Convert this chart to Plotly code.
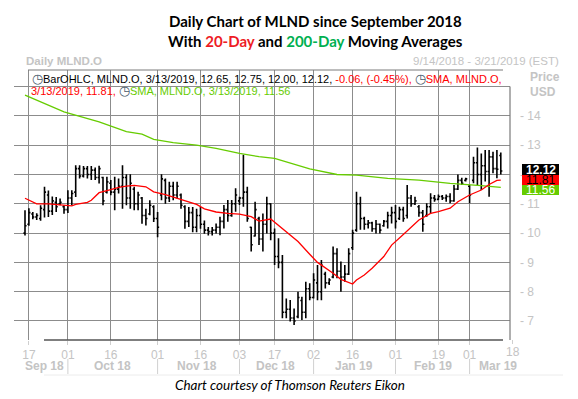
import pandas as pd
import plotly.graph_objects as go

W, H = 578, 399

# ---------------- data ----------------
holidays = ["2018-11-22", "2018-12-05", "2018-12-25", "2019-01-01", "2019-01-21", "2019-02-18"]
all_days = [d.strftime("%Y-%m-%d") for d in pd.bdate_range("2018-09-14", "2019-03-21")
            if d.strftime("%Y-%m-%d") not in holidays]
last_bar = "2019-03-13"
bar_dates = all_days[:all_days.index(last_bar) + 1]

opens = [10.00, 10.30, 10.65, 10.55, 10.50, 10.80, 11.30, 10.75, 11.05, 11.00,
         10.90, 10.80, 11.20, 11.40, 12.20, 11.95, 12.20, 12.00, 12.15, 11.90,
         11.90, 11.40, 11.70, 11.40, 11.50, 11.60, 11.90, 11.20, 11.50, 11.00,
         11.20, 10.60, 10.65, 10.90, 10.50, 11.30, 11.80, 11.20, 11.60, 11.30,
         11.30, 10.90, 10.40, 10.70, 10.20, 10.60, 10.30, 10.10, 10.05, 10.10,
         10.20, 10.40, 10.80, 10.60, 11.00, 11.10, 11.20, 11.40, 10.20, 9.90,
         10.50, 9.80, 10.30, 11.00, 10.00, 9.20, 9.00, 7.30, 7.40, 7.10,
         7.15, 7.70, 7.30, 8.10, 7.80, 8.30, 8.00, 8.60, 8.30, 8.50,
         9.30, 8.70, 8.50, 8.60, 9.50, 10.10, 11.00, 10.50, 10.30, 10.35,
         10.15, 10.30, 10.25, 10.40, 10.60, 10.70, 10.50, 10.80, 10.60, 11.20,
         11.00, 10.90, 10.70, 10.60, 10.90, 11.20, 11.15, 11.25, 11.20, 11.25,
         11.10, 11.50, 11.80, 11.80, 11.60, 11.80, 12.40, 12.00, 12.30, 12.10,
         12.60, 12.20, 12.65]
highs = [10.78, 10.85, 10.72, 10.68, 10.95, 11.58, 11.45, 11.25, 11.23, 11.18,
         10.95, 11.46, 11.46, 12.32, 12.32, 12.29, 12.29, 12.29, 12.24, 12.30,
         11.92, 11.92, 11.81, 11.92, 11.86, 12.32, 12.01, 12.01, 11.58, 11.41,
         11.23, 10.83, 11.12, 10.95, 10.72, 12.01, 11.86, 11.75, 11.75, 11.75,
         11.35, 10.95, 10.89, 10.89, 10.83, 10.89, 10.43, 10.21, 10.21, 10.33,
         10.56, 10.96, 11.13, 11.13, 11.53, 11.24, 12.67, 11.58, 10.22, 11.07,
         10.56, 10.67, 11.24, 11.02, 10.16, 9.82, 9.25, 7.77, 7.72, 7.43,
         8.00, 7.83, 8.34, 8.29, 8.63, 8.91, 9.08, 8.68, 8.46, 9.54,
         9.48, 9.03, 8.91, 9.48, 10.11, 11.41, 11.24, 10.56, 10.45, 10.39,
         10.45, 10.33, 10.45, 10.73, 10.90, 10.96, 10.90, 10.90, 11.64, 11.30,
         11.24, 10.96, 10.79, 11.02, 11.36, 11.30, 11.32, 11.30, 11.32, 11.36,
         11.64, 12.00, 11.89, 11.89, 11.64, 12.61, 12.92, 12.72, 12.84, 12.84,
         12.78, 12.84, 12.75]
lows = [9.92, 10.25, 10.47, 10.45, 10.42, 10.53, 10.55, 10.62, 10.72, 10.95,
        10.66, 10.69, 10.95, 11.23, 11.86, 11.90, 11.86, 11.81, 11.81, 11.69,
        10.95, 11.35, 11.29, 10.78, 11.35, 10.83, 10.95, 10.83, 10.78, 10.78,
        10.32, 10.26, 10.61, 10.38, 9.86, 11.12, 11.00, 11.06, 11.12, 11.18,
        10.83, 10.15, 10.21, 10.03, 10.03, 10.15, 9.98, 9.92, 9.92, 9.99,
        9.93, 10.16, 10.39, 10.56, 10.73, 10.96, 10.90, 10.39, 9.37, 9.88,
        9.59, 9.37, 9.99, 9.76, 8.91, 8.80, 7.09, 7.09, 6.98, 6.86,
        7.09, 7.03, 7.09, 7.71, 7.77, 7.71, 7.71, 8.11, 8.23, 8.46,
        8.46, 8.00, 8.34, 8.57, 9.42, 10.05, 10.11, 10.11, 10.16, 10.05,
        9.99, 9.99, 10.22, 10.16, 10.33, 10.16, 10.45, 10.39, 10.50, 10.90,
        10.96, 10.56, 10.05, 10.56, 10.67, 11.07, 11.13, 11.13, 11.07, 11.02,
        11.07, 11.47, 11.64, 11.76, 11.02, 11.70, 11.64, 11.47, 11.76, 11.24,
        12.04, 11.87, 12.00]
closes = [10.25, 10.70, 10.55, 10.60, 10.85, 11.40, 10.75, 11.10, 10.90, 11.05,
          10.80, 11.20, 11.35, 12.20, 11.95, 12.20, 12.00, 12.15, 11.90, 12.20,
          11.10, 11.75, 11.40, 11.50, 11.60, 11.90, 11.20, 11.70, 11.00, 11.30,
          10.60, 10.50, 10.95, 10.50, 10.20, 11.85, 11.20, 11.60, 11.30, 11.60,
          10.95, 10.40, 10.70, 10.20, 10.60, 10.30, 10.10, 10.05, 10.10, 10.20,
          10.40, 10.80, 10.60, 11.00, 11.30, 11.20, 11.40, 10.50, 9.60, 10.80,
          9.80, 10.30, 11.00, 10.00, 9.20, 9.00, 7.30, 7.40, 7.10, 7.00,
          7.80, 7.30, 8.10, 7.80, 8.40, 8.00, 8.90, 8.30, 8.40, 9.30,
          8.70, 8.50, 8.60, 9.30, 10.00, 11.00, 10.50, 10.30, 10.35, 10.15,
          10.30, 10.10, 10.40, 10.60, 10.70, 10.40, 10.80, 10.50, 11.20, 11.00,
          11.10, 10.70, 10.30, 10.90, 11.20, 11.15, 11.25, 11.20, 11.25, 11.10,
          11.50, 11.80, 11.70, 11.85, 11.30, 12.40, 12.00, 12.30, 12.10, 12.60,
          12.20, 12.18, 12.12]

sma20_dates = ["2018-09-14", "2018-09-19", "2018-09-24", "2018-09-28", "2018-10-02", "2018-10-03",
               "2018-10-08", "2018-10-09", "2018-10-11", "2018-10-16", "2018-10-18", "2018-10-22",
               "2018-10-24", "2018-10-29", "2018-10-31", "2018-11-05", "2018-11-07", "2018-11-12",
               "2018-11-15", "2018-11-19", "2018-11-23", "2018-11-28", "2018-12-03", "2018-12-07",
               "2018-12-11", "2018-12-14", "2018-12-17", "2018-12-20", "2018-12-26", "2018-12-31",
               "2019-01-03", "2019-01-09", "2019-01-11", "2019-01-16", "2019-01-17", "2019-01-22",
               "2019-01-24", "2019-01-29", "2019-01-31", "2019-02-05", "2019-02-11", "2019-02-14",
               "2019-02-19", "2019-02-22", "2019-02-26", "2019-03-01", "2019-03-06", "2019-03-08",
               "2019-03-12", "2019-03-13"]
sma20_vals = [11.19, 11.00, 11.00, 10.96, 10.93, 10.98,
              11.05, 11.12, 11.38, 11.48, 11.56, 11.60,
              11.63, 11.58, 11.41, 11.31, 11.23, 11.12,
              10.98, 10.83, 10.72, 10.67, 10.65, 10.56,
              10.41, 10.48, 10.37, 10.05, 9.71, 9.28,
              9.00, 8.63, 8.42, 8.26, 8.40, 8.57,
              8.80, 9.20, 9.59, 9.95, 10.45, 10.67,
              10.73, 10.85, 11.07, 11.30, 11.47, 11.66,
              11.80, 11.81]

sma200_dates = ["2018-09-14", "2018-09-28", "2018-10-11", "2018-10-22", "2018-10-26", "2018-10-31",
                "2018-11-07", "2018-11-15", "2018-11-23", "2018-12-03", "2018-12-11", "2018-12-17",
                "2018-12-31", "2019-01-10", "2019-01-17", "2019-01-30", "2019-02-11", "2019-02-22",
                "2019-03-06", "2019-03-12", "2019-03-13"]
sma200_vals = [14.71, 14.14, 13.80, 13.46, 13.38, 13.20,
               13.09, 13.00, 12.89, 12.72, 12.61, 12.55,
               12.19, 12.00, 11.98, 11.87, 11.81, 11.70,
               11.62, 11.57, 11.56]

x_tick_dates = ["2018-09-17", "2018-10-01", "2018-10-16", "2018-11-01", "2018-11-16", "2018-12-03",
                "2018-12-17", "2019-01-02", "2019-01-16", "2019-02-01", "2019-02-19", "2019-03-01",
                "2019-03-18"]
x_tick_text = ["17", "01", "16", "01", "16", "03", "17", "02", "16", "01", "19", "01", "18"]
month_labels = ["Sep 18", "Oct 18", "Nov 18", "Dec 18", "Jan 19", "Feb 19", "Mar 19"]
month_starts = ["2018-10-01", "2018-11-01", "2018-12-03", "2019-01-02", "2019-02-01", "2019-03-01"]
y_ticks = [7, 8, 9, 10, 11, 12, 13, 14, 15]

# ---------------- helpers ----------------
def px(x):
    return x / W

def py(y):
    return 1 - y / H

# plot-area geometry (pixels) and the category-axis range that maps onto it
PLOT_L, PLOT_R, PLOT_T, PLOT_B = 14, 510, 70, 340
X_RANGE = [(14 - 25) / 3.9, (510 - 25) / 3.9]


def cat_px(day):
    """Pixel x of a trading day on the category axis (used for the label past the range)."""
    i = all_days.index(day)
    return PLOT_L + (i - X_RANGE[0]) / (X_RANGE[1] - X_RANGE[0]) * (PLOT_R - PLOT_L)


GRID = "#8c8c8c"
LIGHT = "#c4c4c4"
RED = "#ff0000"
GREEN = "#66cc00"

fig = go.Figure()
fig.add_trace(go.Ohlc(
    x=bar_dates, open=opens, high=highs, low=lows, close=closes,
    increasing=dict(line=dict(color="black", width=1.6)),
    decreasing=dict(line=dict(color="black", width=1.6)),
    tickwidth=0.4, showlegend=False, hoverinfo="skip"))
fig.add_trace(go.Scatter(x=sma200_dates, y=sma200_vals, mode="lines",
                         line=dict(color=GREEN, width=1.3), showlegend=False, hoverinfo="skip"))
fig.add_trace(go.Scatter(x=sma20_dates, y=sma20_vals, mode="lines",
                         line=dict(color=RED, width=1.3), showlegend=False, hoverinfo="skip"))

fig.update_layout(
    width=W, height=H, margin=dict(l=0, r=0, t=0, b=0, autoexpand=False),
    paper_bgcolor="white", plot_bgcolor="white",
    font=dict(family="Liberation Sans, Arial, sans-serif", size=11, color="black"),
    xaxis=dict(type="category", categoryorder="array", categoryarray=all_days,
               domain=[px(PLOT_L), px(PLOT_R)], range=X_RANGE,
               tickvals=x_tick_dates, ticktext=x_tick_text, automargin=False,
               showgrid=True, gridcolor=GRID, gridwidth=1,
               ticks="outside", ticklen=4, tickcolor="#cfcfcf",
               tickfont=dict(size=12, color=LIGHT), showline=False, zeroline=False,
               rangeslider=dict(visible=False), fixedrange=True),
    yaxis=dict(side="right", domain=[py(PLOT_B), py(PLOT_T)], range=[6.351, 15.567],
               tickvals=y_ticks, ticktext=["- %d" % v if v < 15 else "" for v in y_ticks],
               showgrid=True, gridcolor=GRID, gridwidth=1, ticks="", automargin=False,
               ticklabelstandoff=9,
               tickfont=dict(size=12, color=LIGHT), showline=False, zeroline=False,
               fixedrange=True),
)

shapes = []
# right axis line
shapes.append(dict(type="line", xref="paper", yref="y", x0=px(PLOT_R), x1=px(PLOT_R), y0=15.0, y1=6.351,
                   line=dict(color="#7a7a7a", width=1.2)))
# top frame line
shapes.append(dict(type="line", xref="paper", yref="paper", x0=px(28), x1=px(503), y0=py(PLOT_T), y1=py(PLOT_T),
                   line=dict(color="#7a7a7a", width=1)))
# bottom axis line
shapes.append(dict(type="line", xref="paper", yref="paper", x0=px(44), x1=px(503), y0=py(PLOT_B), y1=py(PLOT_B),
                   line=dict(color="#555555", width=1.3)))
# tick mark for the label beyond the last plotted day
last_tick_px = cat_px(x_tick_dates[-1])
shapes.append(dict(type="line", xref="paper", yref="paper", x0=px(last_tick_px), x1=px(last_tick_px),
                   y0=py(PLOT_B), y1=py(PLOT_B + 4), line=dict(color="#cfcfcf", width=1)))
# month separators
for d in month_starts:
    shapes.append(dict(type="line", xref="x", yref="paper", x0=d, x1=d, y0=py(359), y1=py(374),
                       line=dict(color="#d0d0d0", width=1)))
# faint line under month labels
shapes.append(dict(type="line", xref="paper", yref="paper", x0=px(44), x1=px(563), y0=py(375), y1=py(375),
                   line=dict(color="#ececec", width=1)))
# value badges
badges = [(164, 175, "black"), (175, 185, RED), (185, 195, GREEN)]
for y0, y1, c in badges:
    shapes.append(dict(type="rect", xref="paper", yref="paper", x0=px(522), x1=px(559),
                       y0=py(y1), y1=py(y0), fillcolor=c, line=dict(width=0)))
fig.update_layout(shapes=shapes)

ann = []


def note(x, y, text, size, color="black", xanchor="center", family=None, height=None):
    f = dict(size=size, color=color)
    if family:
        f["family"] = family
    a = dict(x=px(x), y=py(y), xref="paper", yref="paper", showarrow=False,
             xanchor=xanchor, yanchor="middle", text=text, font=f)
    if height:
        a["height"] = height
    ann.append(a)


TITLE_FONT = "Lato, Open Sans, sans-serif"
note(315, 21, "<b>Daily Chart of MLND since September 2018</b>", 15, family=TITLE_FONT)
note(315, 41, "<b>With <span style='color:#ee1c25'>20-Day</span> and "
              "<span style='color:#00b050'>200-Day</span> Moving Averages</b>", 15, family=TITLE_FONT)
note(24, 61, "<b>Daily MLND.O</b>", 11.5, LIGHT, "left")
note(561, 61, "9/14/2018 - 3/21/2019 (EST)", 11.5, LIGHT, "right")
note(528, 77, "<b>Price</b>", 12, LIGHT, "left")
note(528, 92, "<b>USD</b>", 12, LIGHT, "left")

ICON = "<span style='color:#4a5b6c;font-size:13px'>\u25f7</span>"
line1 = (ICON + "BarOHLC, MLND.O, 3/13/2019, %.2f, %.2f, %.2f, %.2f, " % (opens[-1], highs[-1], lows[-1], closes[-1])
         + "<span style='color:#ff0000'>-0.06, (-0.45%), </span>" + ICON
         + "<span style='color:#ff0000'>SMA, MLND.O,</span>")
line2 = ("<span style='color:#ff0000'>3/13/2019, %.2f, </span>" % sma20_vals[-1] + ICON
         + "<span style='color:#66cc00'>SMA, MLND.O, 3/13/2019, %.2f</span>" % sma200_vals[-1])
note(30, 78, line1, 11, "black", "left")
note(29, 90, line2, 11, "black", "left")

# badge texts
note(540.5, 169.5, "<b>%.2f</b>" % closes[-1], 12, "white", height=11)
note(540.5, 180, "%.2f" % sma20_vals[-1], 12, "black", height=10)
note(540.5, 190, "%.2f" % sma200_vals[-1], 12, "white", height=10)

# x label for the tick beyond the plotted range
note(last_tick_px, 352, x_tick_text[-1], 12, LIGHT)

# month labels
month_x = [44, 112, 197, 275, 354, 433, 498]
for lab, mx in zip(month_labels, month_x):
    note(mx, 366, "<b>%s</b>" % lab, 12, LIGHT)

note(290, 385, "<i>Chart courtesy of Thomson Reuters Eikon</i>", 13.5, family=TITLE_FONT)
fig.update_layout(annotations=ann)

fig.write_html("out.html", config={"displayModeBar": False, "staticPlot": True},
               post_script="document.body.style.margin='0px';document.body.style.overflow='hidden';")
